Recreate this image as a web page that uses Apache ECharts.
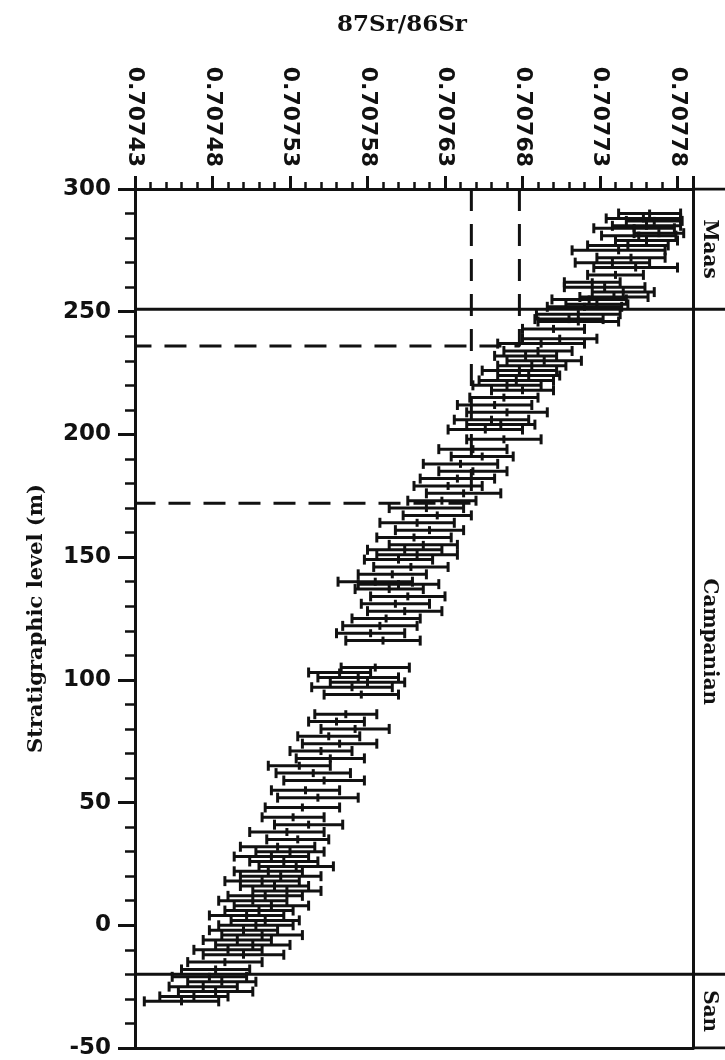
<!DOCTYPE html>
<html>
<head>
<meta charset="utf-8">
<script src="https://cdn.jsdelivr.net/npm/echarts@6/dist/echarts.min.js"></script>
<style>
  html, body { margin: 0; background: #fff; }
  #main { width: 725px; height: 1060px; }
</style>
</head>
<body>
<div id="main"></div>
<script>
// stratigraphic level (m), 87Sr/86Sr and half width of the error bar
const levels = [290, 288, 287, 285, 284, 282, 281, 279, 277, 275, 272, 270, 268, 265, 262, 260, 258, 256, 255, 253, 252,
  249, 247, 246, 243, 239, 237, 234, 232, 230, 228, 226, 224, 222, 220, 218, 215, 212, 209, 206, 204, 202,
  198, 194, 191, 188, 185, 182, 179, 176, 173, 170, 167, 164, 161, 158, 155, 153, 151, 149, 146, 143,
  140, 139, 137, 134, 131, 128, 125, 122, 119, 116, 105, 103, 101, 99, 97, 94, 86, 83, 80, 77, 74, 71, 68,
  65, 62, 59, 55, 52, 48, 44, 41, 38, 35, 32, 30, 28, 26, 24, 22, 20, 18, 16, 14, 12, 10, 8, 6, 4, 2, 0,
  -2, -4, -6, -8, -10, -12, -15, -18, -21, -23, -25, -27, -29, -31];
const ratios = [0.707762, 0.707758, 0.707765, 0.707760, 0.707752, 0.707768, 0.707755, 0.707760, 0.707748, 0.707742, 0.707750, 0.707738, 0.707753, 0.707740, 0.707725, 0.707733, 0.707745, 0.707739, 0.707723, 0.707728, 0.707720,
  0.707716, 0.707710, 0.707716, 0.707700, 0.707704, 0.707692, 0.707690, 0.707682, 0.707694, 0.707686, 0.707678, 0.707684, 0.707676, 0.707670, 0.707680, 0.707668, 0.707662, 0.707670, 0.707660, 0.707666, 0.707656,
  0.707668, 0.707648, 0.707654, 0.707640, 0.707648, 0.707638, 0.707632, 0.707642, 0.707628, 0.707618, 0.707625, 0.707612, 0.707620, 0.707610, 0.707616, 0.707604, 0.707612, 0.707600, 0.707608, 0.707596,
  0.707585, 0.707600, 0.707594, 0.707606, 0.707598, 0.707604, 0.707592, 0.707588, 0.707582, 0.707590, 0.707585, 0.707562, 0.707574, 0.707580, 0.707570, 0.707576, 0.707566, 0.707560, 0.707572, 0.707555, 0.707562, 0.707550, 0.707556,
  0.707536, 0.707545, 0.707552, 0.707540, 0.707548, 0.707538, 0.707532, 0.707542, 0.707528, 0.707535, 0.707522, 0.707530, 0.707518, 0.707526, 0.707534, 0.707516, 0.707524, 0.707512, 0.707520, 0.707528, 0.707514, 0.707506, 0.707518, 0.707510, 0.707502, 0.707514, 0.707508,
  0.707500, 0.707512, 0.707496, 0.707506, 0.707490, 0.707500, 0.707488, 0.707482, 0.707478, 0.707486, 0.707474, 0.707482, 0.707468, 0.707460];
const errs = [0.000020, 0.000024, 0.000018, 0.000022, 0.000026, 0.000016, 0.000024, 0.000020, 0.000026, 0.000030, 0.000022, 0.000024, 0.000027, 0.000018, 0.000018, 0.000026, 0.000020, 0.000022, 0.000024, 0.000020, 0.000024,
  0.000027, 0.000022, 0.000026, 0.000020, 0.000024, 0.000028, 0.000022, 0.000020, 0.000024, 0.000022, 0.000024, 0.000020, 0.000024, 0.000022, 0.000020, 0.000022, 0.000024, 0.000026, 0.000024, 0.000022, 0.000024,
  0.000024, 0.000022, 0.000020, 0.000024, 0.000022, 0.000024, 0.000022, 0.000024, 0.000022, 0.000024, 0.000022, 0.000024, 0.000022, 0.000024, 0.000022, 0.000024, 0.000026, 0.000022, 0.000024, 0.000022,
  0.000024, 0.000026, 0.000022, 0.000024, 0.000022, 0.000024, 0.000022, 0.000024, 0.000022, 0.000024, 0.000022, 0.000020, 0.000026, 0.000024, 0.000026, 0.000024, 0.000020, 0.000018, 0.000022, 0.000020, 0.000024, 0.000020, 0.000022,
  0.000020, 0.000024, 0.000026, 0.000022, 0.000026, 0.000024, 0.000020, 0.000022, 0.000024, 0.000020, 0.000024, 0.000022, 0.000024, 0.000022, 0.000024, 0.000022, 0.000026, 0.000024, 0.000022, 0.000022, 0.000024, 0.000022, 0.000024, 0.000022, 0.000024, 0.000022, 0.000024,
  0.000022, 0.000026, 0.000022, 0.000024, 0.000022, 0.000026, 0.000024, 0.000022, 0.000024, 0.000022, 0.000022, 0.000024, 0.000022, 0.000024];

// stages in the right hand column
const stageNames = ['Maas', 'Campanian', 'San'];
const stageTop = [300, 251, -20];
const stageBase = [251, -20, -50];

// dashed guide lines (ratio, level)
const guideA = [[0.707647, 300], [0.707647, 172], [0.70743, 172]];
const guideB = [[0.707678, 300], [0.707678, 236], [0.70743, 236]];

const xMin = 0.70743, xMax = 0.70779, xStep = 0.00005;
const yMin = -50, yMax = 300, yStep = 50;

const ink = '#111';
const bars = levels.map((lv, i) => [ratios[i], lv, ratios[i] - errs[i], ratios[i] + errs[i]]);

function errorBar(params, api) {
  const lv = api.value(1);
  const a = api.coord([api.value(2), lv]);
  const b = api.coord([api.value(3), lv]);
  const c = api.coord([api.value(0), lv]);
  const st = { stroke: ink, lineWidth: 3 };
  const cap = 5;
  return {
    type: 'group',
    children: [
      { type: 'line', shape: { x1: a[0], y1: a[1], x2: b[0], y2: b[1] }, style: st },
      { type: 'line', shape: { x1: a[0], y1: a[1] - cap, x2: a[0], y2: a[1] + cap }, style: st },
      { type: 'line', shape: { x1: b[0], y1: b[1] - cap, x2: b[0], y2: b[1] + cap }, style: st },
      { type: 'line', shape: { x1: c[0], y1: c[1] - 4, x2: c[0], y2: c[1] + 4 }, style: st }
    ]
  };
}

// stage names, written down the column
function stageLabel(params, api) {
  const i = params.dataIndex;
  const p = api.coord([0.5, (stageTop[i] + stageBase[i]) / 2]);
  return {
    type: 'text',
    x: p[0], y: p[1], rotation: -Math.PI / 2,
    style: {
      text: stageNames[i], fill: ink, align: 'center', verticalAlign: 'middle',
      font: 'bold 20px "DejaVu Serif"'
    }
  };
}

const chart = echarts.init(document.getElementById('main'));
const solid = { color: ink, width: 3 };

chart.setOption({
  animation: false,
  grid: [
    { left: 135, right: 32, top: 189, bottom: 12 },
    { left: 693, right: 0, top: 189, bottom: 12 }
  ],
  xAxis: [
    {
      gridIndex: 0, type: 'value', position: 'top', min: xMin, max: xMax, interval: xStep,
      name: '87Sr/86Sr', nameLocation: 'middle', nameGap: 152,
      nameTextStyle: { fontFamily: 'DejaVu Serif', fontWeight: 'bold', fontSize: 23, color: ink, padding: [0, 24, 0, 0] },
      axisLine: { onZero: false, lineStyle: solid },
      axisTick: { length: 13, lineStyle: solid },
      minorTick: { show: true, splitNumber: 5, length: 7, lineStyle: { color: ink, width: 2.5 } },
      splitLine: { show: false },
      axisLabel: {
        rotate: 90, margin: 22, showMaxLabel: false, color: ink,
        fontFamily: 'DejaVu Sans', fontWeight: 'bold', fontSize: 22,
        formatter: v => v.toFixed(5)
      }
    },
    {
      // bottom edge of the section
      gridIndex: 0, type: 'value', position: 'bottom', min: xMin, max: xMax,
      axisLine: { onZero: false, lineStyle: solid }, axisTick: { show: false },
      minorTick: { show: false }, axisLabel: { show: false }, splitLine: { show: false }
    },
    { gridIndex: 1, type: 'value', min: 0, max: 1, show: false }
  ],
  yAxis: [
    {
      gridIndex: 0, type: 'value', min: yMin, max: yMax, interval: yStep,
      name: 'Stratigraphic level (m)', nameLocation: 'middle', nameGap: 88,
      nameTextStyle: { fontFamily: 'DejaVu Serif', fontWeight: 'bold', fontSize: 21, color: ink },
      axisLine: { onZero: false, lineStyle: solid },
      axisTick: { length: 17, lineStyle: solid },
      minorTick: { show: true, splitNumber: 5, length: 10, lineStyle: { color: ink, width: 2.5 } },
      splitLine: { show: false },
      axisLabel: { margin: 24, color: ink, fontFamily: 'DejaVu Sans', fontWeight: 'bold', fontSize: 23 }
    },
    {
      gridIndex: 1, type: 'value', min: yMin, max: yMax, position: 'left',
      axisLine: { show: true, onZero: false, lineStyle: solid }, axisTick: { show: false },
      axisLabel: { show: false }, splitLine: { show: false }
    }
  ],
  series: [
    {
      type: 'custom', xAxisIndex: 0, yAxisIndex: 0, renderItem: errorBar,
      encode: { x: 0, y: 1 }, data: bars, clip: true, z: 5
    },
    {
      type: 'line', xAxisIndex: 0, yAxisIndex: 0, data: guideA, symbol: 'none',
      lineStyle: { color: ink, width: 3, type: [22, 13] }
    },
    {
      type: 'line', xAxisIndex: 0, yAxisIndex: 0, data: guideB, symbol: 'none',
      lineStyle: { color: ink, width: 3, type: [22, 13] }
    },
    // stage boundaries across the plot and the stage column
    {
      type: 'line', xAxisIndex: 0, yAxisIndex: 0, symbol: 'none', lineStyle: solid,
      data: [[xMin, stageBase[0]], [xMax, stageBase[0]], null, [xMin, stageBase[1]], [xMax, stageBase[1]]]
    },
    {
      type: 'line', xAxisIndex: 2, yAxisIndex: 1, symbol: 'none', lineStyle: solid,
      data: [[0, yMax], [1, yMax], null, [0, stageBase[0]], [1, stageBase[0]], null,
        [0, stageBase[1]], [1, stageBase[1]], null, [0, yMin], [1, yMin]]
    },
    {
      type: 'custom', xAxisIndex: 2, yAxisIndex: 1, renderItem: stageLabel,
      data: stageNames.map((n, i) => [0.5, (stageTop[i] + stageBase[i]) / 2])
    }
  ]
});
</script>
</body>
</html>
